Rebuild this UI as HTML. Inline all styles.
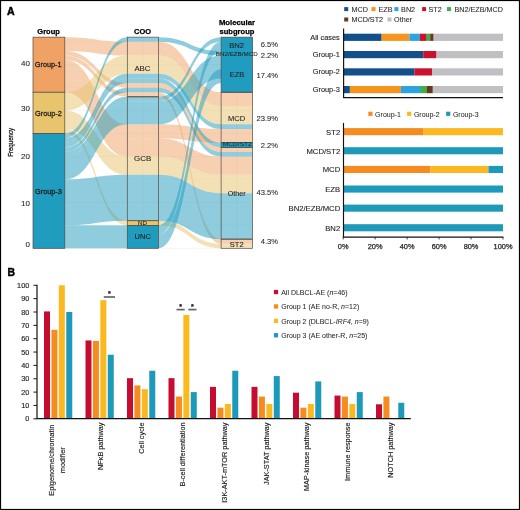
<!DOCTYPE html>
<html><head><meta charset="utf-8"><style>
html,body{margin:0;padding:0;background:#fff;}
body{width:520px;height:510px;overflow:hidden;}
svg{display:block;will-change:transform;}
text{font-family:"Liberation Sans",sans-serif;}
</style></head><body>
<svg width="520" height="510" viewBox="0 0 520 510">
<rect x="0" y="0" width="520" height="510" fill="#fff"/>
<text x="7.0" y="14.9" font-size="10.6" font-weight="bold" fill="#000" stroke="#000" stroke-width="0.45">A</text>
<text x="7.6" y="275.6" font-size="10.4" font-weight="bold" fill="#000" stroke="#000" stroke-width="0.45">B</text>
<line x1="33" y1="248.30" x2="252.5" y2="248.30" stroke="#e8e8e8" stroke-width="0.5"/>
<line x1="33" y1="225.35" x2="252.5" y2="225.35" stroke="#e8e8e8" stroke-width="0.35"/>
<line x1="33" y1="202.40" x2="252.5" y2="202.40" stroke="#e8e8e8" stroke-width="0.5"/>
<line x1="33" y1="179.45" x2="252.5" y2="179.45" stroke="#e8e8e8" stroke-width="0.35"/>
<line x1="33" y1="156.50" x2="252.5" y2="156.50" stroke="#e8e8e8" stroke-width="0.5"/>
<line x1="33" y1="133.54" x2="252.5" y2="133.54" stroke="#e8e8e8" stroke-width="0.35"/>
<line x1="33" y1="110.59" x2="252.5" y2="110.59" stroke="#e8e8e8" stroke-width="0.5"/>
<line x1="33" y1="87.64" x2="252.5" y2="87.64" stroke="#e8e8e8" stroke-width="0.35"/>
<line x1="33" y1="64.69" x2="252.5" y2="64.69" stroke="#e8e8e8" stroke-width="0.5"/>
<line x1="33" y1="41.74" x2="252.5" y2="41.74" stroke="#e8e8e8" stroke-width="0.35"/>
<line x1="48.9" y1="37.15" x2="48.9" y2="248.3" stroke="#e8e8e8" stroke-width="0.5"/>
<line x1="142.9" y1="37.15" x2="142.9" y2="248.3" stroke="#e8e8e8" stroke-width="0.5"/>
<line x1="236.8" y1="37.15" x2="236.8" y2="248.3" stroke="#e8e8e8" stroke-width="0.5"/>
<path d="M33.00,37.15 L64.80,37.15 C96.05,37.15 96.05,41.74 127.30,41.74 L158.50,41.74 C189.80,41.74 189.80,92.23 221.10,92.23 L252.50,92.23 L252.50,106.00 L221.10,106.00 C189.80,106.00 189.80,55.51 158.50,55.51 L127.30,55.51 C96.05,55.51 96.05,50.92 64.80,50.92 L33.00,50.92 Z" fill="#f0a264" fill-opacity="0.5"/>
<path d="M33.00,50.92 L64.80,50.92 C96.05,50.92 96.05,83.05 127.30,83.05 L158.50,83.05 C189.80,83.05 189.80,147.32 221.10,147.32 L252.50,147.32 L252.50,151.91 L221.10,151.91 C189.80,151.91 189.80,87.64 158.50,87.64 L127.30,87.64 C96.05,87.64 96.05,55.51 64.80,55.51 L33.00,55.51 Z" fill="#f0a264" fill-opacity="0.5"/>
<path d="M33.00,55.51 L64.80,55.51 C96.05,55.51 96.05,92.23 127.30,92.23 L158.50,92.23 C189.80,92.23 189.80,239.12 221.10,239.12 L252.50,239.12 L252.50,243.71 L221.10,243.71 C189.80,243.71 189.80,96.82 158.50,96.82 L127.30,96.82 C96.05,96.82 96.05,60.10 64.80,60.10 L33.00,60.10 Z" fill="#f0a264" fill-opacity="0.5"/>
<path d="M33.00,60.10 L64.80,60.10 C96.05,60.10 96.05,124.36 127.30,124.36 L158.50,124.36 C189.80,124.36 189.80,128.95 221.10,128.95 L252.50,128.95 L252.50,142.72 L221.10,142.72 C189.80,142.72 189.80,138.13 158.50,138.13 L127.30,138.13 C96.05,138.13 96.05,73.87 64.80,73.87 L33.00,73.87 Z" fill="#f0a264" fill-opacity="0.5"/>
<path d="M33.00,73.87 L64.80,73.87 C96.05,73.87 96.05,138.13 127.30,138.13 L158.50,138.13 C189.80,138.13 189.80,156.50 221.10,156.50 L252.50,156.50 L252.50,174.86 L221.10,174.86 C189.80,174.86 189.80,156.50 158.50,156.50 L127.30,156.50 C96.05,156.50 96.05,92.23 64.80,92.23 L33.00,92.23 Z" fill="#f0a264" fill-opacity="0.5"/>
<path d="M33.00,92.23 L64.80,92.23 C96.05,92.23 96.05,55.51 127.30,55.51 L158.50,55.51 C189.80,55.51 189.80,106.00 221.10,106.00 L252.50,106.00 L252.50,124.36 L221.10,124.36 C189.80,124.36 189.80,73.87 158.50,73.87 L127.30,73.87 C96.05,73.87 96.05,110.59 64.80,110.59 L33.00,110.59 Z" fill="#e8c46c" fill-opacity="0.5"/>
<path d="M33.00,110.59 L64.80,110.59 C96.05,110.59 96.05,156.50 127.30,156.50 L158.50,156.50 C189.80,156.50 189.80,174.86 221.10,174.86 L252.50,174.86 L252.50,193.22 L221.10,193.22 C189.80,193.22 189.80,174.86 158.50,174.86 L127.30,174.86 C96.05,174.86 96.05,128.95 64.80,128.95 L33.00,128.95 Z" fill="#e8c46c" fill-opacity="0.5"/>
<path d="M33.00,128.95 L64.80,128.95 C96.05,128.95 96.05,220.76 127.30,220.76 L158.50,220.76 C189.80,220.76 189.80,243.71 221.10,243.71 L252.50,243.71 L252.50,248.30 L221.10,248.30 C189.80,248.30 189.80,225.35 158.50,225.35 L127.30,225.35 C96.05,225.35 96.05,133.54 64.80,133.54 L33.00,133.54 Z" fill="#e8c46c" fill-opacity="0.5"/>
<path d="M33.00,133.54 L64.80,133.54 C96.05,133.54 96.05,37.15 127.30,37.15 L158.50,37.15 C189.80,37.15 189.80,50.92 221.10,50.92 L252.50,50.92 L252.50,55.51 L221.10,55.51 C189.80,55.51 189.80,41.74 158.50,41.74 L127.30,41.74 C96.05,41.74 96.05,138.13 64.80,138.13 L33.00,138.13 Z" fill="#209cbe" fill-opacity="0.5"/>
<path d="M33.00,138.13 L64.80,138.13 C96.05,138.13 96.05,73.87 127.30,73.87 L158.50,73.87 C189.80,73.87 189.80,124.36 221.10,124.36 L252.50,124.36 L252.50,128.95 L221.10,128.95 C189.80,128.95 189.80,78.46 158.50,78.46 L127.30,78.46 C96.05,78.46 96.05,142.72 64.80,142.72 L33.00,142.72 Z" fill="#209cbe" fill-opacity="0.5"/>
<path d="M33.00,142.72 L64.80,142.72 C96.05,142.72 96.05,78.46 127.30,78.46 L158.50,78.46 C189.80,78.46 189.80,142.72 221.10,142.72 L252.50,142.72 L252.50,147.32 L221.10,147.32 C189.80,147.32 189.80,83.05 158.50,83.05 L127.30,83.05 C96.05,83.05 96.05,147.32 64.80,147.32 L33.00,147.32 Z" fill="#209cbe" fill-opacity="0.5"/>
<path d="M33.00,147.32 L64.80,147.32 C96.05,147.32 96.05,87.64 127.30,87.64 L158.50,87.64 C189.80,87.64 189.80,151.91 221.10,151.91 L252.50,151.91 L252.50,156.50 L221.10,156.50 C189.80,156.50 189.80,92.23 158.50,92.23 L127.30,92.23 C96.05,92.23 96.05,151.91 64.80,151.91 L33.00,151.91 Z" fill="#209cbe" fill-opacity="0.5"/>
<path d="M33.00,151.91 L64.80,151.91 C96.05,151.91 96.05,96.82 127.30,96.82 L158.50,96.82 C189.80,96.82 189.80,37.15 221.10,37.15 L252.50,37.15 L252.50,41.74 L221.10,41.74 C189.80,41.74 189.80,101.41 158.50,101.41 L127.30,101.41 C96.05,101.41 96.05,156.50 64.80,156.50 L33.00,156.50 Z" fill="#209cbe" fill-opacity="0.5"/>
<path d="M33.00,156.50 L64.80,156.50 C96.05,156.50 96.05,101.41 127.30,101.41 L158.50,101.41 C189.80,101.41 189.80,55.51 221.10,55.51 L252.50,55.51 L252.50,78.46 L221.10,78.46 C189.80,78.46 189.80,124.36 158.50,124.36 L127.30,124.36 C96.05,124.36 96.05,179.45 64.80,179.45 L33.00,179.45 Z" fill="#209cbe" fill-opacity="0.5"/>
<path d="M33.00,179.45 L64.80,179.45 C96.05,179.45 96.05,174.86 127.30,174.86 L158.50,174.86 C189.80,174.86 189.80,193.22 221.10,193.22 L252.50,193.22 L252.50,239.12 L221.10,239.12 C189.80,239.12 189.80,220.76 158.50,220.76 L127.30,220.76 C96.05,220.76 96.05,225.35 64.80,225.35 L33.00,225.35 Z" fill="#209cbe" fill-opacity="0.5"/>
<path d="M127.30,225.35 L158.50,225.35 C189.80,225.35 189.80,41.74 221.10,41.74 L252.50,41.74 L252.50,50.92 L221.10,50.92 C189.80,50.92 189.80,234.53 158.50,234.53 L127.30,234.53 Z" fill="#209cbe" fill-opacity="0.5"/>
<path d="M127.30,234.53 L158.50,234.53 C189.80,234.53 189.80,69.28 221.10,69.28 L252.50,69.28 L252.50,83.05 L221.10,83.05 C189.80,83.05 189.80,248.30 158.50,248.30 L127.30,248.30 Z" fill="#209cbe" fill-opacity="0.5"/>
<rect x="33.0" y="225.35" width="94.80" height="22.95" fill="#209cbe" fill-opacity="0.5"/>
<rect x="33.0" y="37.15" width="31.80" height="55.08" fill="#f0a264" stroke="#544a42" stroke-width="0.7"/>
<rect x="33.0" y="92.23" width="31.80" height="41.31" fill="#e8c46c" stroke="#544a42" stroke-width="0.7"/>
<rect x="33.0" y="133.54" width="31.80" height="114.76" fill="#209cbe" stroke="#544a42" stroke-width="0.7"/>
<rect x="127.3" y="37.15" width="31.20" height="59.67" fill="none" stroke="#544a42" stroke-width="0.7"/>
<rect x="127.3" y="96.82" width="31.20" height="123.94" fill="none" stroke="#544a42" stroke-width="0.7"/>
<rect x="127.3" y="220.76" width="31.20" height="4.59" fill="#e8c46c" stroke="#544a42" stroke-width="0.7"/>
<rect x="127.3" y="225.35" width="31.20" height="22.95" fill="#209cbe" stroke="#544a42" stroke-width="0.7"/>
<rect x="221.1" y="37.15" width="31.40" height="55.08" fill="#209cbe" stroke="#544a42" stroke-width="0.7"/>
<rect x="221.1" y="92.23" width="31.40" height="50.49" fill="none" stroke="#544a42" stroke-width="0.7"/>
<rect x="221.1" y="142.72" width="31.40" height="4.59" fill="#209cbe" stroke="#544a42" stroke-width="0.7"/>
<rect x="221.1" y="147.32" width="31.40" height="91.80" fill="none" stroke="#544a42" stroke-width="0.7"/>
<rect x="221.1" y="239.12" width="31.40" height="9.18" fill="none" stroke="#544a42" stroke-width="0.7"/>
<text x="37.3" y="34.3" font-size="7.4" text-anchor="start" font-weight="bold" textLength="22.5" lengthAdjust="spacingAndGlyphs" fill="#000" stroke="#000" stroke-width="0.25" >Group</text>
<text x="134.0" y="34.3" font-size="7.4" text-anchor="start" font-weight="bold" textLength="17" lengthAdjust="spacingAndGlyphs" fill="#000" stroke="#000" stroke-width="0.25" >COO</text>
<text x="218.9" y="25.1" font-size="7.4" text-anchor="start" font-weight="bold" textLength="36.1" lengthAdjust="spacingAndGlyphs" fill="#000" stroke="#000" stroke-width="0.25" >Molecular</text>
<text x="219.5" y="33.6" font-size="7.4" text-anchor="start" font-weight="bold" textLength="34.9" lengthAdjust="spacingAndGlyphs" fill="#000" stroke="#000" stroke-width="0.25" >subgroup</text>
<text x="34.8" y="67.3" font-size="8" text-anchor="start" textLength="26.8" lengthAdjust="spacingAndGlyphs" fill="#231f20" stroke="#231f20" stroke-width="0.3" >Group-1</text>
<text x="35.0" y="116.3" font-size="8" text-anchor="start" textLength="26.9" lengthAdjust="spacingAndGlyphs" fill="#231f20" stroke="#231f20" stroke-width="0.3" >Group-2</text>
<text x="35.0" y="193.6" font-size="8" text-anchor="start" textLength="26.9" lengthAdjust="spacingAndGlyphs" fill="#231f20" stroke="#231f20" stroke-width="0.3" >Group-3</text>
<text x="134.4" y="70.9" font-size="7.9" text-anchor="start" textLength="16.1" lengthAdjust="spacingAndGlyphs" fill="#231f20" stroke="#231f20" stroke-width="0.1" >ABC</text>
<text x="134.1" y="160.9" font-size="7.9" text-anchor="start" textLength="17.1" lengthAdjust="spacingAndGlyphs" fill="#231f20" stroke="#231f20" stroke-width="0.1" >GCB</text>
<text x="138.1" y="225.2" font-size="5.6" text-anchor="start" textLength="8.8" lengthAdjust="spacingAndGlyphs" fill="#231f20" stroke="#231f20" stroke-width="0.1" >ND</text>
<text x="134.6" y="238.6" font-size="7.9" text-anchor="start" textLength="16.2" lengthAdjust="spacingAndGlyphs" fill="#231f20" stroke="#231f20" stroke-width="0.1" >UNC</text>
<text x="229.3" y="47.6" font-size="7.9" text-anchor="start" textLength="14.7" lengthAdjust="spacingAndGlyphs" fill="#231f20" stroke="#231f20" stroke-width="0.1" >BN2</text>
<text x="215.8" y="55.8" font-size="6.0" text-anchor="start" textLength="41.9" lengthAdjust="spacingAndGlyphs" fill="#231f20" stroke="#231f20" stroke-width="0.05" >BN2/EZB/MCD</text>
<text x="229.8" y="76.9" font-size="7.9" text-anchor="start" textLength="14.4" lengthAdjust="spacingAndGlyphs" fill="#231f20" stroke="#231f20" stroke-width="0.1" >EZB</text>
<text x="228.0" y="120.8" font-size="7.9" text-anchor="start" textLength="17.2" lengthAdjust="spacingAndGlyphs" fill="#231f20" stroke="#231f20" stroke-width="0.1" >MCD</text>
<text x="222.8" y="145.9" font-size="4.8" text-anchor="start" textLength="29.0" lengthAdjust="spacingAndGlyphs" fill="#0a2a3a" >MCD/ST2</text>
<text x="227.8" y="195.8" font-size="7.9" text-anchor="start" textLength="17.9" lengthAdjust="spacingAndGlyphs" fill="#231f20" stroke="#231f20" stroke-width="0.1" >Other</text>
<text x="229.8" y="246.5" font-size="7.9" text-anchor="start" textLength="13.9" lengthAdjust="spacingAndGlyphs" fill="#231f20" stroke="#231f20" stroke-width="0.1" >ST2</text>
<text x="278.0" y="47.3" font-size="7.6" text-anchor="end" fill="#2a2a2a" stroke="#2a2a2a" stroke-width="0.08" >6.5%</text>
<text x="278.0" y="57.7" font-size="7.6" text-anchor="end" fill="#2a2a2a" stroke="#2a2a2a" stroke-width="0.08" >2.2%</text>
<text x="278.0" y="77.7" font-size="7.6" text-anchor="end" fill="#2a2a2a" stroke="#2a2a2a" stroke-width="0.08" >17.4%</text>
<text x="278.0" y="121.2" font-size="7.6" text-anchor="end" fill="#2a2a2a" stroke="#2a2a2a" stroke-width="0.08" >23.9%</text>
<text x="278.0" y="148.2" font-size="7.6" text-anchor="end" fill="#2a2a2a" stroke="#2a2a2a" stroke-width="0.08" >2.2%</text>
<text x="278.0" y="194.6" font-size="7.6" text-anchor="end" fill="#2a2a2a" stroke="#2a2a2a" stroke-width="0.08" >43.5%</text>
<text x="278.0" y="243.8" font-size="7.6" text-anchor="end" fill="#2a2a2a" stroke="#2a2a2a" stroke-width="0.08" >4.3%</text>
<text x="30.0" y="66.4" font-size="8" text-anchor="end" fill="#2a2a2a" stroke="#2a2a2a" stroke-width="0.1" >40</text>
<text x="30.0" y="110.7" font-size="8" text-anchor="end" fill="#2a2a2a" stroke="#2a2a2a" stroke-width="0.1" >30</text>
<text x="30.0" y="158.5" font-size="8" text-anchor="end" fill="#2a2a2a" stroke="#2a2a2a" stroke-width="0.1" >20</text>
<text x="30.0" y="206.0" font-size="8" text-anchor="end" fill="#2a2a2a" stroke="#2a2a2a" stroke-width="0.1" >10</text>
<text x="30.0" y="247.0" font-size="8" text-anchor="end" fill="#2a2a2a" stroke="#2a2a2a" stroke-width="0.1" >0</text>
<text x="0" y="0" font-size="7.4" fill="#1a1a1a" stroke="#1a1a1a" stroke-width="0.3" transform="translate(12.8,142.4) rotate(-90)" text-anchor="middle" textLength="28.8" lengthAdjust="spacingAndGlyphs">Frequency</text>
<rect x="343.50" y="33.7" width="38.14" height="7.2" fill="#134f88"/>
<rect x="381.64" y="33.7" width="27.74" height="7.2" fill="#f7941d"/>
<rect x="409.38" y="33.7" width="10.40" height="7.2" fill="#2aa4de"/>
<rect x="419.78" y="33.7" width="6.93" height="7.2" fill="#c8122f"/>
<rect x="426.72" y="33.7" width="3.47" height="7.2" fill="#3cb14b"/>
<rect x="430.18" y="33.7" width="3.47" height="7.2" fill="#66391a"/>
<rect x="433.65" y="33.7" width="69.35" height="7.2" fill="#bfbfc4"/>
<text x="339.8" y="39.5" font-size="7.4" text-anchor="end" fill="#231f20" stroke="#231f20" stroke-width="0.12" >All cases</text>
<rect x="343.50" y="51.0" width="79.75" height="7.2" fill="#134f88"/>
<rect x="423.25" y="51.0" width="13.29" height="7.2" fill="#c8122f"/>
<rect x="436.54" y="51.0" width="66.46" height="7.2" fill="#bfbfc4"/>
<text x="339.8" y="56.8" font-size="7.4" text-anchor="end" fill="#231f20" stroke="#231f20" stroke-width="0.12" >Group-1</text>
<rect x="343.50" y="68.3" width="70.89" height="7.2" fill="#134f88"/>
<rect x="414.39" y="68.3" width="17.72" height="7.2" fill="#c8122f"/>
<rect x="432.11" y="68.3" width="70.89" height="7.2" fill="#bfbfc4"/>
<text x="339.8" y="74.1" font-size="7.4" text-anchor="end" fill="#231f20" stroke="#231f20" stroke-width="0.12" >Group-2</text>
<rect x="343.50" y="86.0" width="6.38" height="7.2" fill="#134f88"/>
<rect x="349.88" y="86.0" width="51.04" height="7.2" fill="#f7941d"/>
<rect x="400.92" y="86.0" width="19.14" height="7.2" fill="#2aa4de"/>
<rect x="420.06" y="86.0" width="6.38" height="7.2" fill="#3cb14b"/>
<rect x="426.44" y="86.0" width="6.38" height="7.2" fill="#66391a"/>
<rect x="432.82" y="86.0" width="70.18" height="7.2" fill="#bfbfc4"/>
<text x="339.8" y="91.8" font-size="7.4" text-anchor="end" fill="#231f20" stroke="#231f20" stroke-width="0.12" >Group-3</text>
<line x1="343.6" y1="28.6" x2="343.6" y2="98.1" stroke="#111" stroke-width="1.15"/>
<line x1="343.1" y1="97.6" x2="503" y2="97.6" stroke="#111" stroke-width="1.1"/>
<rect x="344.20" y="7.10" width="4" height="4" fill="#134f88"/>
<text x="351.5" y="11.50" font-size="7.2" text-anchor="start" fill="#2a2a2a" stroke="#2a2a2a" stroke-width="0.08" >MCD</text>
<rect x="371.50" y="7.10" width="4" height="4" fill="#f7941d"/>
<text x="378.5" y="11.50" font-size="7.2" text-anchor="start" fill="#2a2a2a" stroke="#2a2a2a" stroke-width="0.08" >EZB</text>
<rect x="394.40" y="7.10" width="4" height="4" fill="#2aa4de"/>
<text x="401.1" y="11.50" font-size="7.2" text-anchor="start" fill="#2a2a2a" stroke="#2a2a2a" stroke-width="0.08" >BN2</text>
<rect x="422.10" y="7.10" width="4" height="4" fill="#c8122f"/>
<text x="428.5" y="11.50" font-size="7.2" text-anchor="start" fill="#2a2a2a" stroke="#2a2a2a" stroke-width="0.08" >ST2</text>
<rect x="447.00" y="7.10" width="4" height="4" fill="#3cb14b"/>
<text x="454.5" y="11.50" font-size="7.2" text-anchor="start" fill="#2a2a2a" stroke="#2a2a2a" stroke-width="0.08" >BN2/EZB/MCD</text>
<rect x="344.20" y="17.50" width="4" height="4" fill="#66391a"/>
<text x="351.5" y="21.90" font-size="7.2" text-anchor="start" fill="#2a2a2a" stroke="#2a2a2a" stroke-width="0.08" >MCD/ST2</text>
<rect x="387.50" y="17.50" width="4" height="4" fill="#bfbfc4"/>
<text x="394.1" y="21.90" font-size="7.2" text-anchor="start" fill="#2a2a2a" stroke="#2a2a2a" stroke-width="0.08" >Other</text>
<rect x="343.20" y="128.1" width="79.90" height="7.1" fill="#f68b1f"/>
<rect x="423.10" y="128.1" width="79.90" height="7.1" fill="#fbb91f"/>
<text x="340.2" y="134.5" font-size="7.7" text-anchor="end" fill="#231f20" stroke="#231f20" stroke-width="0.12" >ST2</text>
<rect x="343.20" y="147.2" width="159.80" height="7.1" fill="#1d9ab9"/>
<text x="340.2" y="153.6" font-size="7.7" text-anchor="end" fill="#231f20" stroke="#231f20" stroke-width="0.12" >MCD/ST2</text>
<rect x="343.20" y="165.9" width="87.16" height="7.1" fill="#f68b1f"/>
<rect x="430.36" y="165.9" width="58.11" height="7.1" fill="#fbb91f"/>
<rect x="488.47" y="165.9" width="14.53" height="7.1" fill="#1d9ab9"/>
<text x="340.2" y="172.3" font-size="7.7" text-anchor="end" fill="#231f20" stroke="#231f20" stroke-width="0.12" >MCD</text>
<rect x="343.20" y="185.5" width="159.80" height="7.1" fill="#1d9ab9"/>
<text x="340.2" y="191.9" font-size="7.7" text-anchor="end" fill="#231f20" stroke="#231f20" stroke-width="0.12" >EZB</text>
<rect x="343.20" y="204.6" width="159.80" height="7.1" fill="#1d9ab9"/>
<text x="340.2" y="211.0" font-size="7.7" text-anchor="end" fill="#231f20" stroke="#231f20" stroke-width="0.12" >BN2/EZB/MCD</text>
<rect x="343.20" y="224.2" width="159.80" height="7.1" fill="#1d9ab9"/>
<text x="340.2" y="230.6" font-size="7.7" text-anchor="end" fill="#231f20" stroke="#231f20" stroke-width="0.12" >BN2</text>
<line x1="343.5" y1="122.9" x2="343.5" y2="237.6" stroke="#111" stroke-width="1.15"/>
<line x1="342.9" y1="237.2" x2="503.4" y2="237.2" stroke="#111" stroke-width="1.3"/>
<line x1="343.20" y1="237" x2="343.20" y2="239.5" stroke="#231f20" stroke-width="0.8"/>
<text x="343.20" y="248.8" font-size="7.4" text-anchor="middle" fill="#231f20" stroke="#231f20" stroke-width="0.25" >0%</text>
<line x1="375.16" y1="237" x2="375.16" y2="239.5" stroke="#231f20" stroke-width="0.8"/>
<text x="375.16" y="248.8" font-size="7.4" text-anchor="middle" fill="#231f20" stroke="#231f20" stroke-width="0.25" >20%</text>
<line x1="407.12" y1="237" x2="407.12" y2="239.5" stroke="#231f20" stroke-width="0.8"/>
<text x="407.12" y="248.8" font-size="7.4" text-anchor="middle" fill="#231f20" stroke="#231f20" stroke-width="0.25" >40%</text>
<line x1="439.08" y1="237" x2="439.08" y2="239.5" stroke="#231f20" stroke-width="0.8"/>
<text x="439.08" y="248.8" font-size="7.4" text-anchor="middle" fill="#231f20" stroke="#231f20" stroke-width="0.25" >60%</text>
<line x1="471.04" y1="237" x2="471.04" y2="239.5" stroke="#231f20" stroke-width="0.8"/>
<text x="471.04" y="248.8" font-size="7.4" text-anchor="middle" fill="#231f20" stroke="#231f20" stroke-width="0.25" >80%</text>
<line x1="503.00" y1="237" x2="503.00" y2="239.5" stroke="#231f20" stroke-width="0.8"/>
<text x="503.00" y="248.8" font-size="7.4" text-anchor="middle" fill="#231f20" stroke="#231f20" stroke-width="0.25" >100%</text>
<rect x="368.30" y="111.7" width="4.2" height="4.2" fill="#f68b1f"/>
<text x="375.1" y="116.6" font-size="7.6" text-anchor="start" textLength="25.7" lengthAdjust="spacingAndGlyphs" fill="#2a2a2a" stroke="#2a2a2a" stroke-width="0.05" >Group-1</text>
<rect x="407.10" y="111.7" width="4.2" height="4.2" fill="#fbb91f"/>
<text x="413.90000000000003" y="116.6" font-size="7.6" text-anchor="start" textLength="25.7" lengthAdjust="spacingAndGlyphs" fill="#2a2a2a" stroke="#2a2a2a" stroke-width="0.05" >Group-2</text>
<rect x="446.10" y="111.7" width="4.2" height="4.2" fill="#1d9ab9"/>
<text x="452.90000000000003" y="116.6" font-size="7.6" text-anchor="start" textLength="25.7" lengthAdjust="spacingAndGlyphs" fill="#2a2a2a" stroke="#2a2a2a" stroke-width="0.05" >Group-3</text>
<rect x="44.00" y="311.42" width="6.0" height="107.38" fill="#c60c30"/>
<rect x="51.42" y="329.80" width="6.0" height="89.00" fill="#f68b1f"/>
<rect x="58.84" y="285.30" width="6.0" height="133.50" fill="#fbb91f"/>
<rect x="66.26" y="312.00" width="6.0" height="106.80" fill="#1d9ab9"/>
<rect x="85.50" y="340.44" width="6.0" height="78.36" fill="#c60c30"/>
<rect x="92.92" y="340.93" width="6.0" height="77.88" fill="#f68b1f"/>
<rect x="100.34" y="300.13" width="6.0" height="118.67" fill="#fbb91f"/>
<rect x="107.76" y="354.72" width="6.0" height="64.08" fill="#1d9ab9"/>
<rect x="127.00" y="378.17" width="6.0" height="40.63" fill="#c60c30"/>
<rect x="134.42" y="385.43" width="6.0" height="33.38" fill="#f68b1f"/>
<rect x="141.84" y="389.13" width="6.0" height="29.67" fill="#fbb91f"/>
<rect x="149.26" y="370.74" width="6.0" height="48.06" fill="#1d9ab9"/>
<rect x="168.50" y="378.17" width="6.0" height="40.63" fill="#c60c30"/>
<rect x="175.92" y="396.55" width="6.0" height="22.25" fill="#f68b1f"/>
<rect x="183.34" y="314.97" width="6.0" height="103.83" fill="#fbb91f"/>
<rect x="190.76" y="392.10" width="6.0" height="26.70" fill="#1d9ab9"/>
<rect x="210.00" y="386.88" width="6.0" height="31.92" fill="#c60c30"/>
<rect x="217.42" y="407.68" width="6.0" height="11.12" fill="#f68b1f"/>
<rect x="224.84" y="403.97" width="6.0" height="14.83" fill="#fbb91f"/>
<rect x="232.26" y="370.74" width="6.0" height="48.06" fill="#1d9ab9"/>
<rect x="251.50" y="386.88" width="6.0" height="31.92" fill="#c60c30"/>
<rect x="258.92" y="396.55" width="6.0" height="22.25" fill="#f68b1f"/>
<rect x="266.34" y="403.97" width="6.0" height="14.83" fill="#fbb91f"/>
<rect x="273.76" y="376.08" width="6.0" height="42.72" fill="#1d9ab9"/>
<rect x="293.00" y="392.68" width="6.0" height="26.12" fill="#c60c30"/>
<rect x="300.42" y="407.68" width="6.0" height="11.12" fill="#f68b1f"/>
<rect x="307.84" y="403.97" width="6.0" height="14.83" fill="#fbb91f"/>
<rect x="315.26" y="381.42" width="6.0" height="37.38" fill="#1d9ab9"/>
<rect x="334.50" y="395.58" width="6.0" height="23.22" fill="#c60c30"/>
<rect x="341.92" y="396.55" width="6.0" height="22.25" fill="#f68b1f"/>
<rect x="349.34" y="403.97" width="6.0" height="14.83" fill="#fbb91f"/>
<rect x="356.76" y="392.10" width="6.0" height="26.70" fill="#1d9ab9"/>
<rect x="376.00" y="404.29" width="6.0" height="14.51" fill="#c60c30"/>
<rect x="383.42" y="396.55" width="6.0" height="22.25" fill="#f68b1f"/>
<rect x="398.26" y="402.78" width="6.0" height="16.02" fill="#1d9ab9"/>
<line x1="37.0" y1="284.7" x2="37.0" y2="419" stroke="#1a1a1a" stroke-width="1.25"/>
<line x1="36.5" y1="418.6" x2="410.8" y2="418.6" stroke="#111" stroke-width="1.25"/>
<line x1="33.4" y1="418.80" x2="37.0" y2="418.80" stroke="#1a1a1a" stroke-width="1.0"/>
<text x="29.3" y="421.40" font-size="7.3" text-anchor="end" fill="#231f20" stroke="#231f20" stroke-width="0.15" >0</text>
<line x1="33.4" y1="405.45" x2="37.0" y2="405.45" stroke="#1a1a1a" stroke-width="1.0"/>
<text x="29.3" y="408.05" font-size="7.3" text-anchor="end" fill="#231f20" stroke="#231f20" stroke-width="0.15" >10</text>
<line x1="33.4" y1="392.10" x2="37.0" y2="392.10" stroke="#1a1a1a" stroke-width="1.0"/>
<text x="29.3" y="394.70" font-size="7.3" text-anchor="end" fill="#231f20" stroke="#231f20" stroke-width="0.15" >20</text>
<line x1="33.4" y1="378.75" x2="37.0" y2="378.75" stroke="#1a1a1a" stroke-width="1.0"/>
<text x="29.3" y="381.35" font-size="7.3" text-anchor="end" fill="#231f20" stroke="#231f20" stroke-width="0.15" >30</text>
<line x1="33.4" y1="365.40" x2="37.0" y2="365.40" stroke="#1a1a1a" stroke-width="1.0"/>
<text x="29.3" y="368.00" font-size="7.3" text-anchor="end" fill="#231f20" stroke="#231f20" stroke-width="0.15" >40</text>
<line x1="33.4" y1="352.05" x2="37.0" y2="352.05" stroke="#1a1a1a" stroke-width="1.0"/>
<text x="29.3" y="354.65" font-size="7.3" text-anchor="end" fill="#231f20" stroke="#231f20" stroke-width="0.15" >50</text>
<line x1="33.4" y1="338.70" x2="37.0" y2="338.70" stroke="#1a1a1a" stroke-width="1.0"/>
<text x="29.3" y="341.30" font-size="7.3" text-anchor="end" fill="#231f20" stroke="#231f20" stroke-width="0.15" >60</text>
<line x1="33.4" y1="325.35" x2="37.0" y2="325.35" stroke="#1a1a1a" stroke-width="1.0"/>
<text x="29.3" y="327.95" font-size="7.3" text-anchor="end" fill="#231f20" stroke="#231f20" stroke-width="0.15" >70</text>
<line x1="33.4" y1="312.00" x2="37.0" y2="312.00" stroke="#1a1a1a" stroke-width="1.0"/>
<text x="29.3" y="314.60" font-size="7.3" text-anchor="end" fill="#231f20" stroke="#231f20" stroke-width="0.15" >80</text>
<line x1="33.4" y1="298.65" x2="37.0" y2="298.65" stroke="#1a1a1a" stroke-width="1.0"/>
<text x="29.3" y="301.25" font-size="7.3" text-anchor="end" fill="#231f20" stroke="#231f20" stroke-width="0.15" >90</text>
<line x1="33.4" y1="285.30" x2="37.0" y2="285.30" stroke="#1a1a1a" stroke-width="1.0"/>
<text x="29.3" y="287.90" font-size="7.3" text-anchor="end" fill="#231f20" stroke="#231f20" stroke-width="0.15" >100</text>
<line x1="103.8" y1="297.0" x2="115.0" y2="297.0" stroke="#666" stroke-width="1.7"/>
<text x="109.40" y="296.40" font-size="7" text-anchor="middle" font-weight="bold" fill="#231f20" stroke="#231f20" stroke-width="0.25" >*</text>
<line x1="176.5" y1="309.6" x2="184.7" y2="309.6" stroke="#666" stroke-width="1.7"/>
<text x="180.60" y="309.00" font-size="7" text-anchor="middle" font-weight="bold" fill="#231f20" stroke="#231f20" stroke-width="0.25" >*</text>
<line x1="188.3" y1="309.6" x2="196.5" y2="309.6" stroke="#666" stroke-width="1.7"/>
<text x="192.40" y="309.00" font-size="7" text-anchor="middle" font-weight="bold" fill="#231f20" stroke="#231f20" stroke-width="0.25" >*</text>
<rect x="273.9" y="289.90" width="4.2" height="4.3" fill="#c60c30"/>
<text x="281.2" y="294.90" font-size="7.0" text-anchor="start" fill="#2a2a2a" stroke="#2a2a2a" stroke-width="0.05" >All DLBCL-AE (<tspan font-style="italic">n</tspan>=46)</text>
<rect x="273.9" y="304.30" width="4.2" height="4.3" fill="#f68b1f"/>
<text x="281.2" y="309.30" font-size="7.0" text-anchor="start" fill="#2a2a2a" stroke="#2a2a2a" stroke-width="0.05" >Group 1 (AE no-R, <tspan font-style="italic">n</tspan>=12)</text>
<rect x="273.9" y="318.70" width="4.2" height="4.3" fill="#fbb91f"/>
<text x="281.2" y="323.70" font-size="7.0" text-anchor="start" fill="#2a2a2a" stroke="#2a2a2a" stroke-width="0.05" >Group 2 (DLBCL-<tspan font-style="italic">IRF4</tspan>, <tspan font-style="italic">n</tspan>=9)</text>
<rect x="273.9" y="333.10" width="4.2" height="4.3" fill="#1d9ab9"/>
<text x="281.2" y="338.10" font-size="7.0" text-anchor="start" fill="#2a2a2a" stroke="#2a2a2a" stroke-width="0.05" >Group 3 (AE other-R, <tspan font-style="italic">n</tspan>=25)</text>
<text transform="translate(54.40,460.2) rotate(-90)" font-size="7.3" text-anchor="middle" fill="#222" stroke="#222" stroke-width="0.15">Epigenome/chromatin</text>
<text transform="translate(64.60,460.2) rotate(-90)" font-size="7.3" text-anchor="middle" fill="#222" stroke="#222" stroke-width="0.15">modifier</text>
<text transform="translate(103.30,422.5) rotate(-90)" font-size="7.3" text-anchor="end" fill="#222" stroke="#222" stroke-width="0.15">NFκB pathway</text>
<text transform="translate(143.80,422.5) rotate(-90)" font-size="7.3" text-anchor="end" fill="#222" stroke="#222" stroke-width="0.15">Cell cycle</text>
<text transform="translate(185.10,422.5) rotate(-90)" font-size="7.3" text-anchor="end" fill="#222" stroke="#222" stroke-width="0.15">B-cell differentiation</text>
<text transform="translate(227.30,422.5) rotate(-90)" font-size="7.3" text-anchor="end" fill="#222" stroke="#222" stroke-width="0.15">I3K-AKT-mTOR pathway</text>
<text transform="translate(268.80,422.5) rotate(-90)" font-size="7.3" text-anchor="end" fill="#222" stroke="#222" stroke-width="0.15">JAK-STAT pathway</text>
<text transform="translate(308.60,422.5) rotate(-90)" font-size="7.3" text-anchor="end" fill="#222" stroke="#222" stroke-width="0.15">MAP-kinase pathway</text>
<text transform="translate(350.10,422.5) rotate(-90)" font-size="7.3" text-anchor="end" fill="#222" stroke="#222" stroke-width="0.15">Immune response</text>
<text transform="translate(392.60,422.5) rotate(-90)" font-size="7.3" text-anchor="end" fill="#222" stroke="#222" stroke-width="0.15">NOTCH pathway</text>
<rect x="0.5" y="0.5" width="519" height="509" fill="none" stroke="#000" stroke-width="1.2"/>
</svg>
</body></html>
